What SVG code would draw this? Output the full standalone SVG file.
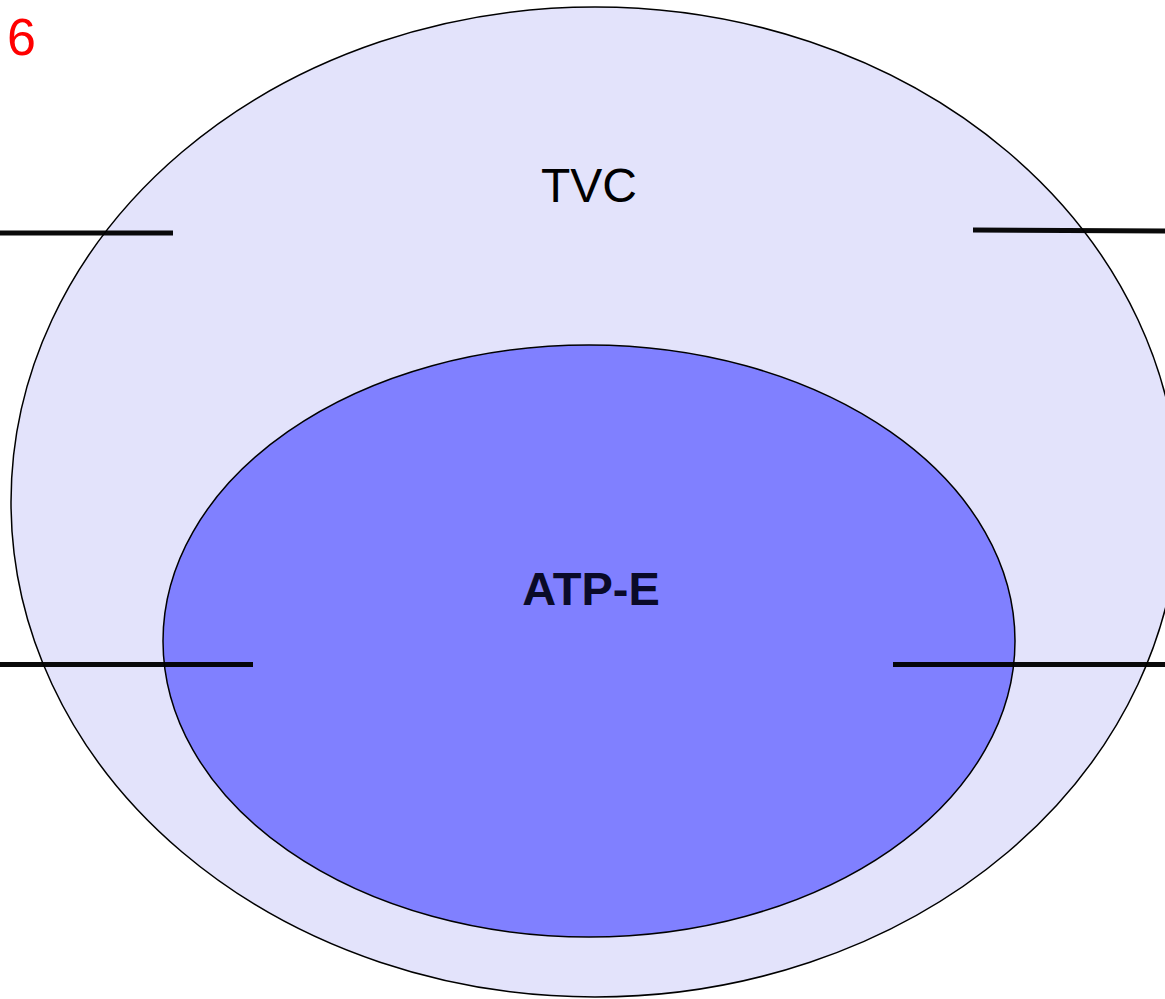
<svg xmlns="http://www.w3.org/2000/svg" width="1165" height="999" viewBox="0 0 1165 999">
<style>
.lbl{font-family:"Liberation Sans",Arial,sans-serif;text-anchor:middle}
.conn{stroke:#000;stroke-width:5;stroke-opacity:0.96;fill:none}
</style>
<rect width="1165" height="999" fill="#fff"/>
<g id="tvc">
<ellipse cx="595" cy="502" rx="584" ry="495" fill="#e3e3fb" stroke="#000" stroke-width="1.5"/>
<text class="lbl" x="589" y="202" font-size="48" fill="#000">TVC</text>
</g>
<g id="atp-e">
<ellipse cx="589" cy="641" rx="426" ry="296" fill="#8080ff" stroke="#000" stroke-width="1.5"/>
<text class="lbl" x="591" y="605" font-size="47" font-weight="bold" fill="#0a0a28">ATP-E</text>
</g>
<g id="connectors">
<line class="conn" x1="0" y1="233" x2="173" y2="233"/>
<line class="conn" x1="973" y1="230" x2="1165" y2="231"/>
<line class="conn" x1="0" y1="664.5" x2="253" y2="664.5"/>
<line class="conn" x1="893" y1="664.5" x2="1165" y2="664.5"/>
</g>
<g id="page-number">
<text x="7" y="55" font-family="'Liberation Sans',Arial,sans-serif" font-size="52" fill="#ff0000">6</text>
</g>
</svg>
